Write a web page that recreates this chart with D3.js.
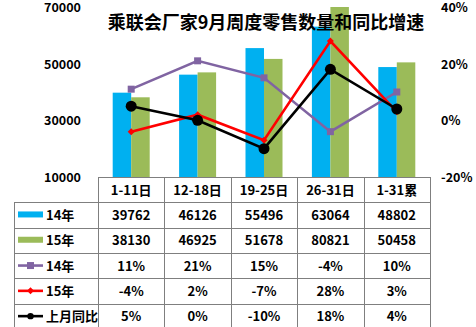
<!DOCTYPE html>
<html><head><meta charset="utf-8">
<script src="https://cdn.jsdelivr.net/npm/d3@7"></script>
<style>body{margin:0;background:#fff;}svg{display:block;font-family:"Noto Sans CJK SC","Noto Sans",sans-serif;font-weight:bold;}</style>
</head><body>
<svg id="c" width="476" height="327"></svg>
<script>
const title = "乘联会厂家9月周度零售数量和同比增速";
const categories = ["1-11日","12-18日","19-25日","26-31日","1-31累"];
const sales14 = [39762, 46126, 55496, 63064, 48802];
const sales15 = [38130, 46925, 51678, 80821, 50458];
const growth14 = [0.11, 0.21, 0.15, -0.04, 0.10];
const growth15 = [-0.04, 0.02, -0.07, 0.28, 0.03];
const growthMoM = [0.05, 0.00, -0.10, 0.18, 0.04];
const leftTicks = [10000, 30000, 50000, 70000];
const rightTicks = [-0.2, 0, 0.2, 0.4];

const colors = {b14:"#00B0F0", b15:"#9BBB59", l14:"#8064A2", l15:"#FF0000", mom:"#000000"};
const loc = d3.formatLocale({decimal:".", thousands:",", grouping:[3], currency:["",""], minus:"-"});
const pct = loc.format(".0%");

const svg = d3.select("#c");
const plotTop = 7, plotBot = 177, plotL = 98, plotR = 430;
const x = d3.scaleBand().domain(categories).range([plotL, plotR]).padding(0);
const yL = d3.scaleLinear().domain([10000, 70000]).range([plotBot, plotTop]);
const yR = d3.scaleLinear().domain([-0.2, 0.4]).range([plotBot, plotTop]);
const inner = d3.scaleBand().domain(["b14","b15"]).range([-18.5, 18.5]).padding(0);

svg.append("defs").append("clipPath").attr("id","clip")
  .append("rect").attr("x", plotL).attr("y", plotTop).attr("width", plotR-plotL).attr("height", plotBot-plotTop);

// bars
const gb = svg.append("g").attr("clip-path","url(#clip)");
[["b14", sales14], ["b15", sales15]].forEach(([k, arr]) => {
  gb.selectAll(null).data(arr).enter().append("rect")
    .attr("x", (d,i) => x(categories[i]) + x.bandwidth()/2 + inner(k))
    .attr("width", inner.bandwidth())
    .attr("y", d => yL(d))
    .attr("height", d => plotBot - yL(d))
    .attr("fill", colors[k]);
});

// title
svg.append("text").attr("x", 266).attr("y", 29).attr("text-anchor","middle")
  .attr("font-size", 18).attr("fill","#000").text(title);

// axes
const axL = d3.axisLeft(yL).tickValues(leftTicks).tickSize(0).tickPadding(0).tickFormat(d3.format("d"));
const gL = svg.append("g").attr("transform","translate(81,0)").call(axL);
gL.select(".domain").remove();
gL.selectAll("text").attr("font-size", 12.5).attr("font-family","Noto Sans CJK SC").attr("font-weight","bold").attr("fill","#000").attr("dy","0.36em");
const axR = d3.axisRight(yR).tickValues(rightTicks).tickSize(0).tickPadding(0).tickFormat(pct);
const gR = svg.append("g").attr("transform","translate(441,0)").call(axR);
gR.select(".domain").remove();
gR.selectAll("text").attr("font-size", 12.5).attr("font-family","Noto Sans CJK SC").attr("font-weight","bold").attr("fill","#000").attr("dy","0.36em");

// lines
const cx = (d,i) => x(categories[i]) + x.bandwidth()/2;
function drawLine(arr, color, marker) {
  const line = d3.line().x((d,i)=>cx(d,i)).y(d=>yR(d));
  svg.append("path").datum(arr).attr("d", line).attr("fill","none").attr("stroke", color).attr("stroke-width", 2.6);
  const g = svg.append("g");
  arr.forEach((d,i) => drawMarker(g, cx(d,i), yR(d), color, marker));
}
function drawMarker(g, px, py, color, marker) {
  if (marker === "square") g.append("rect").attr("x", px-3.5).attr("y", py-3.5).attr("width",7).attr("height",7).attr("fill", color);
  else if (marker === "diamond") g.append("path").attr("d", `M${px},${py-3.5}L${px+3.5},${py}L${px},${py+3.5}L${px-3.5},${py}Z`).attr("fill", color);
  else if (marker === "small") g.append("circle").attr("cx", px).attr("cy", py).attr("r", 3.2).attr("fill", color);
  else g.append("circle").attr("cx", px).attr("cy", py).attr("r", 5.5).attr("fill", color);
}
drawLine(growth14, colors.l14, "square");
drawLine(growth15, colors.l15, "diamond");
drawLine(growthMoM, colors.mom, "circle");

// table
const rowH = 25.3;
const rows = [
  {label:"14年", key:"b14", type:"bar", vals: sales14.map(String)},
  {label:"15年", key:"b15", type:"bar", vals: sales15.map(String)},
  {label:"14年", key:"l14", type:"square", vals: growth14.map(pct)},
  {label:"15年", key:"l15", type:"diamond", vals: growth15.map(pct)},
  {label:"上月同比", key:"mom", type:"circle", vals: growthMoM.map(pct)}
];
const gt = svg.append("g");
const tableL = 14;
const border = "#7f7f7f";
gt.append("line").attr("x1", plotL).attr("x2", plotR).attr("y1", plotBot+0.5).attr("y2", plotBot+0.5).attr("stroke", border);
for (let r = 0; r <= rows.length; r++) {
  const yy = Math.round(plotBot + rowH*(r+1)) + 0.5;
  gt.append("line").attr("x1", tableL).attr("x2", plotR).attr("y1", yy).attr("y2", yy).attr("stroke", border);
}
const bottomY = plotBot + rowH*(rows.length+1);
gt.append("line").attr("x1", tableL+0.5).attr("x2", tableL+0.5).attr("y1", plotBot + rowH).attr("y2", bottomY).attr("stroke", border);
categories.concat([null]).forEach((c,i) => {
  const xx = Math.round(c === null ? plotR : x(c)) + 0.5;
  gt.append("line").attr("x1", xx).attr("x2", xx).attr("y1", plotBot).attr("y2", bottomY).attr("stroke", border);
});
categories.forEach(c => {
  gt.append("text").attr("x", x(c)+x.bandwidth()/2).attr("y", plotBot + rowH/2 + 5)
    .attr("text-anchor","middle").attr("font-size",13).attr("fill","#000").text(c);
});
rows.forEach((row, r) => {
  const yc = plotBot + rowH*(r+1) + rowH/2;
  if (row.type === "bar") {
    gt.append("rect").attr("x", 18).attr("y", yc-3.5).attr("width", 25).attr("height", 6).attr("fill", colors[row.key]);
  } else {
    gt.append("line").attr("x1",18).attr("x2",43).attr("y1",yc).attr("y2",yc).attr("stroke", colors[row.key]).attr("stroke-width",2.6);
    drawMarker(gt, 30.5, yc, colors[row.key], row.type === "circle" ? "small" : row.type);
  }
  gt.append("text").attr("x", 46).attr("y", yc+5).attr("font-size",13).attr("fill","#000").text(row.label);
  row.vals.forEach((v,i) => {
    gt.append("text").attr("x", x(categories[i])+x.bandwidth()/2).attr("y", yc+5)
      .attr("text-anchor","middle").attr("font-size",13).attr("fill","#000").text(v);
  });
});
</script>
</body></html>
